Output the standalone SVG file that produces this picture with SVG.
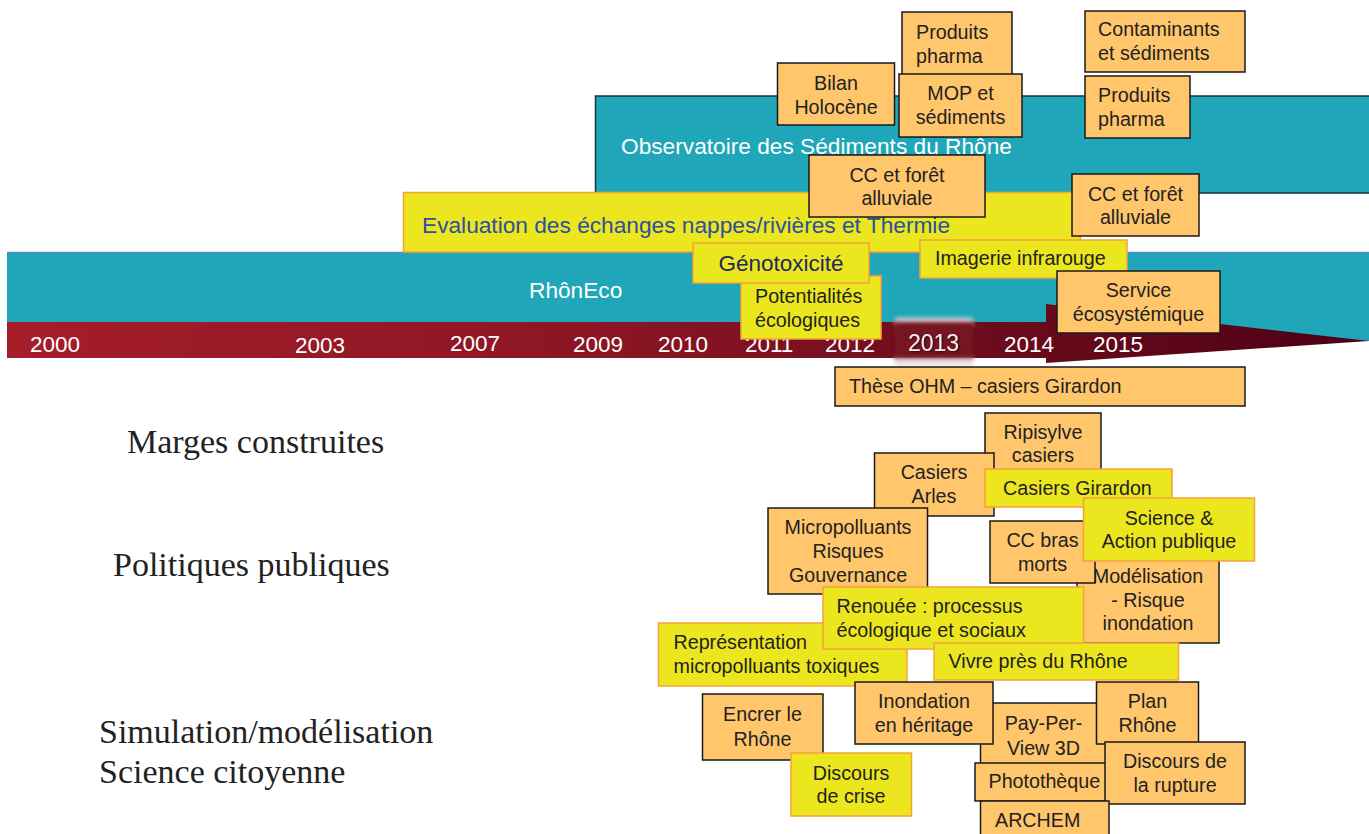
<svg xmlns="http://www.w3.org/2000/svg" width="1369" height="834" viewBox="0 0 1369 834">
<defs>
<linearGradient id="timeGrad" gradientUnits="userSpaceOnUse" x1="7" y1="0" x2="1369" y2="0">
<stop offset="0" stop-color="#a51d29"/>
<stop offset="0.45" stop-color="#8a1524"/>
<stop offset="0.75" stop-color="#680b1b"/>
<stop offset="1" stop-color="#4c0016"/>
</linearGradient>
<filter id="blur" x="-20%" y="-40%" width="140%" height="180%"><feGaussianBlur stdDeviation="2"/></filter>
<filter id="shadow" x="-20%" y="-40%" width="140%" height="180%"><feGaussianBlur in="SourceAlpha" stdDeviation="1.2"/><feOffset dx="1" dy="1" result="b"/><feFlood flood-color="#000" flood-opacity="0.7"/><feComposite in2="b" operator="in"/><feMerge><feMergeNode/><feMergeNode in="SourceGraphic"/></feMerge></filter>
</defs>
<style>
.org{fill:#ffc66c;stroke:#1a1a1a;stroke-width:1.5}
.yel{fill:#ebe61e;stroke:#f5a23a;stroke-width:1.5}
.t{font-family:"Liberation Sans",Arial,sans-serif;font-size:19.7px;fill:#222}
.c{text-anchor:middle}
.big{font-family:"Liberation Sans",Arial,sans-serif;font-size:22.7px;fill:#fff}
.yr{font-family:"Liberation Sans",Arial,sans-serif;font-size:22.5px;fill:#fff}
.lab{font-family:"Liberation Serif","Times New Roman",serif;font-size:34px;fill:#222}
</style>
<rect width="1369" height="834" fill="#fff"/>

<g id="rhoneco">
<rect x="7" y="252" width="1362" height="89" fill="#1fa6b8"/>
<line x1="7" y1="252.5" x2="1369" y2="252.5" stroke="#5a86c4" stroke-width="1.5"/>
<text class="big" x="529" y="298">RhônEco</text>
</g>

<g id="timeline">
<rect x="7" y="322" width="1040" height="36" fill="url(#timeGrad)"/>
<polygon points="1046,304 1369,341 1046,363" fill="url(#timeGrad)"/>
<text class="yr" x="30" y="352">2000</text>
<text class="yr" x="295" y="353">2003</text>
<text class="yr" x="450" y="351">2007</text>
<text class="yr" x="573" y="352">2009</text>
<text class="yr" x="658" y="352">2010</text>
<text class="yr" x="745" y="352">2011</text>
<text class="yr" x="825" y="352">2012</text>
<text class="yr" x="1004" y="352">2014</text>
<text class="yr" x="1093" y="352">2015</text>
</g>

<g id="year2013">
<rect x="895" y="318" width="78" height="8" fill="#e4dcdc" filter="url(#blur)"/>
<rect x="895" y="357" width="78" height="9" fill="#e8e2e2" filter="url(#blur)"/>
<rect x="894" y="322" width="80" height="36" fill="#761220" filter="url(#blur)"/>
<text class="yr" x="908" y="351" style="font-size:23px;fill:#f4ecec" filter="url(#shadow)">2013</text>
</g>

<g id="observatoire">
<rect x="595.5" y="96" width="780" height="97" fill="#1fa6b8" stroke="#14383e" stroke-width="1.5"/>
<text class="big" x="621" y="154">Observatoire des Sédiments du Rhône</text>
</g>

<g id="evaluation">
<rect x="403.5" y="192.5" width="677" height="59.5" class="yel"/>
<text class="big" x="422" y="233" style="fill:#2b4fa2">Evaluation des échanges nappes/rivières et Thermie</text>
</g>

<g id="produits-pharma-1">
<rect x="902" y="12" width="110" height="63" class="org"/>
<text class="t" x="916" y="39">Produits</text>
<text class="t" x="916" y="63">pharma</text>
</g>
<g id="mop-sediments">
<rect x="899" y="74" width="123" height="63" class="org"/>
<text class="t c" x="960.5" y="100">MOP et</text>
<text class="t c" x="960.5" y="124">sédiments</text>
</g>
<g id="bilan-holocene">
<rect x="777.5" y="63" width="117" height="62" class="org"/>
<text class="t c" x="836" y="90">Bilan</text>
<text class="t c" x="836" y="114">Holocène</text>
</g>
<g id="contaminants">
<rect x="1085" y="11" width="160" height="61" class="org"/>
<text class="t" x="1098" y="36">Contaminants</text>
<text class="t" x="1098" y="60">et sédiments</text>
</g>
<g id="produits-pharma-2">
<rect x="1085" y="76" width="105" height="62" class="org"/>
<text class="t" x="1098" y="102">Produits</text>
<text class="t" x="1098" y="126">pharma</text>
</g>
<g id="cc-foret-1">
<rect x="809" y="155" width="176" height="62" class="org"/>
<text class="t c" x="897" y="182">CC et forêt</text>
<text class="t c" x="897" y="205">alluviale</text>
</g>
<g id="cc-foret-2">
<rect x="1072" y="174" width="127" height="62" class="org"/>
<text class="t c" x="1135.5" y="201">CC et forêt</text>
<text class="t c" x="1135.5" y="224">alluviale</text>
</g>
<g id="imagerie">
<rect x="920" y="240" width="207" height="38" class="yel"/>
<text class="t" x="935" y="265">Imagerie infrarouge</text>
</g>
<g id="potentialites">
<rect x="741" y="276" width="140" height="63" class="yel"/>
<text class="t" x="755" y="303">Potentialités</text>
<text class="t" x="755" y="327">écologiques</text>
</g>
<g id="genotoxicite">
<rect x="693" y="243" width="176" height="40" class="yel"/>
<text class="t c" x="781" y="271" style="font-size:22.5px;fill:#1f2a5e">Génotoxicité</text>
</g>
<g id="service">
<rect x="1057" y="271" width="163" height="62" class="org"/>
<text class="t c" x="1138.5" y="297">Service</text>
<text class="t c" x="1138.5" y="321">écosystémique</text>
</g>
<g id="these">
<rect x="835" y="367" width="410" height="39" class="org"/>
<text class="t" x="849" y="393">Thèse OHM – casiers Girardon</text>
</g>

<g id="label-marges"><text class="lab" x="127" y="453">Marges construites</text></g>
<g id="label-politiques"><text class="lab" x="113" y="576">Politiques publiques</text></g>
<g id="label-simulation"><text class="lab" x="99" y="743">Simulation/modélisation</text><text class="lab" x="99" y="783">Science citoyenne</text></g>

<g id="ripisylve">
<rect x="985" y="413" width="116" height="57" class="org"/>
<text class="t c" x="1043" y="439">Ripisylve</text>
<text class="t c" x="1043" y="462">casiers</text>
</g>
<g id="casiers-arles">
<rect x="874.5" y="453" width="119.5" height="63" class="org"/>
<text class="t c" x="934" y="479">Casiers</text>
<text class="t c" x="934" y="503">Arles</text>
</g>
<g id="casiers-girardon">
<rect x="985" y="469" width="187" height="38" class="yel"/>
<text class="t" x="1003" y="495">Casiers Girardon</text>
</g>
<g id="micropolluants">
<rect x="768" y="508" width="159.5" height="86" class="org"/>
<text class="t c" x="848" y="534">Micropolluants</text>
<text class="t c" x="848" y="558">Risques</text>
<text class="t c" x="848" y="582">Gouvernance</text>
</g>
<g id="modelisation">
<rect x="1077" y="556" width="142" height="87" class="org"/>
<text class="t c" x="1148" y="583">Modélisation</text>
<text class="t c" x="1148" y="607">- Risque</text>
<text class="t c" x="1148" y="630">inondation</text>
</g>
<g id="cc-bras-morts">
<rect x="990" y="521" width="105" height="62" class="org"/>
<text class="t c" x="1042.5" y="547">CC bras</text>
<text class="t c" x="1042.5" y="571">morts</text>
</g>
<g id="science-action">
<rect x="1083.5" y="498" width="171" height="63" class="yel"/>
<text class="t c" x="1169" y="525">Science &amp;</text>
<text class="t c" x="1169" y="548">Action publique</text>
</g>
<g id="representation">
<rect x="658.5" y="623" width="248.5" height="63" class="yel"/>
<text class="t" x="673.5" y="649">Représentation</text>
<text class="t" x="673.5" y="673">micropolluants toxiques</text>
</g>
<g id="renouee">
<rect x="823" y="587" width="260.5" height="62" class="yel"/>
<text class="t" x="836.5" y="613">Renouée : processus</text>
<text class="t" x="836.5" y="637">écologique et sociaux</text>
</g>
<g id="vivre">
<rect x="934" y="643" width="244.5" height="37" class="yel"/>
<text class="t" x="948.5" y="668">Vivre près du Rhône</text>
</g>

<g id="encrer">
<rect x="702.5" y="694" width="120.5" height="66" class="org"/>
<text class="t c" x="762.5" y="721">Encrer le</text>
<text class="t c" x="762.5" y="746">Rhône</text>
</g>
<g id="discours-crise">
<rect x="791" y="753" width="120.5" height="63" class="yel"/>
<text class="t c" x="851" y="780">Discours</text>
<text class="t c" x="851" y="803">de crise</text>
</g>
<g id="pay-per-view">
<rect x="980.5" y="703" width="125.5" height="62" class="org"/>
<text class="t c" x="1043.5" y="730">Pay-Per-</text>
<text class="t c" x="1043.5" y="755">View 3D</text>
</g>
<g id="inondation-heritage">
<rect x="855" y="682" width="138" height="62" class="org"/>
<text class="t c" x="924" y="708">Inondation</text>
<text class="t c" x="924" y="732">en héritage</text>
</g>
<g id="plan-rhone">
<rect x="1096.5" y="682" width="102" height="62" class="org"/>
<text class="t c" x="1147.5" y="708">Plan</text>
<text class="t c" x="1147.5" y="732">Rhône</text>
</g>
<g id="phototheque">
<rect x="975" y="763" width="131" height="38" class="org"/>
<text class="t" x="988.5" y="788">Photothèque</text>
</g>
<g id="discours-rupture">
<rect x="1105" y="742" width="140" height="62" class="org"/>
<text class="t c" x="1175" y="768">Discours de</text>
<text class="t c" x="1175" y="792">la rupture</text>
</g>
<g id="archem">
<rect x="980.5" y="801" width="128.5" height="40" class="org"/>
<text class="t" x="995" y="827">ARCHEM</text>
</g>
<g id="connectors"/>
</svg>
